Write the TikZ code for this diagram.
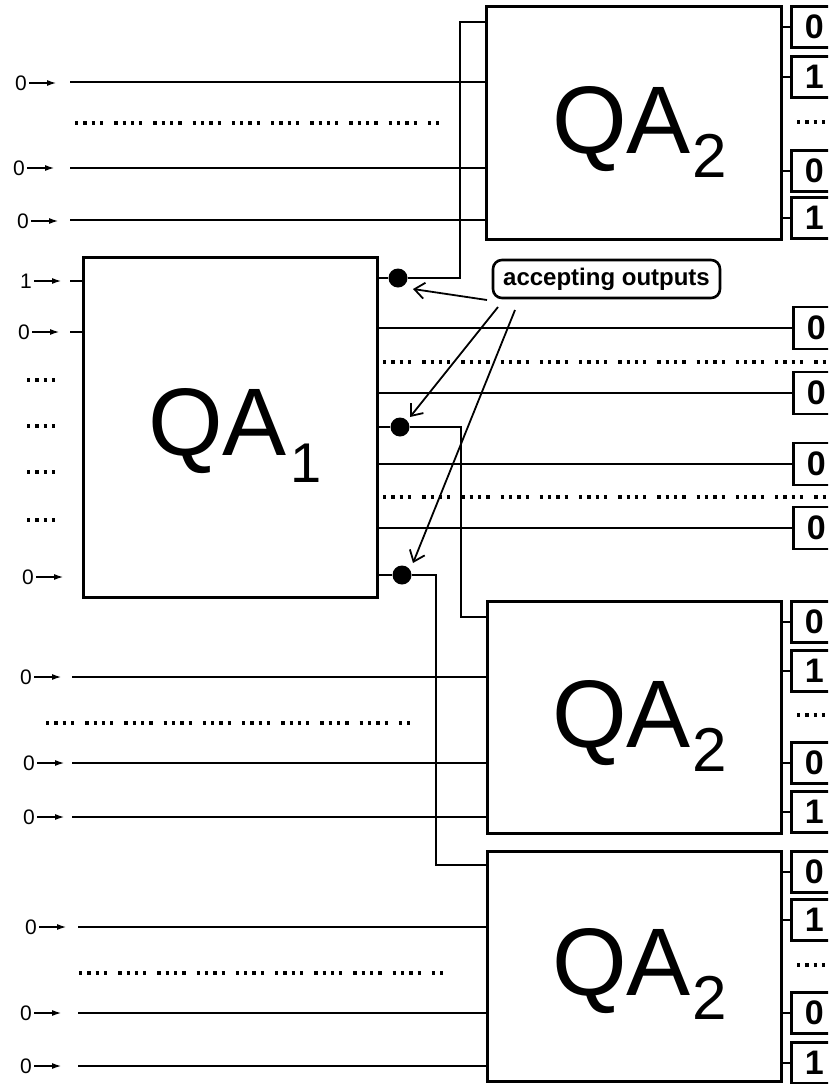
\documentclass[tikz,border=0pt]{standalone}
\usepackage{fontspec}
\setmainfont{Liberation Sans}
\usetikzlibrary{arrows.meta}
\newcommand\InLab[4]{\node[inlab] (#1) at (#3,#4) {#2}; \draw[inarr] (#1.east) -- ++(27,0);}
\begin{document}
\begin{tikzpicture}[x=1pt,y=-1pt,
  wire/.style={line width=2.5pt},
  qabox/.style={draw,line width=2.6pt,rectangle,anchor=north west,inner sep=0pt},
  outbox/.style={draw,line width=2.5pt,rectangle,anchor=west,minimum width=46pt,minimum height=41pt,inner sep=0pt,font=\fontsize{34}{34}\selectfont\bfseries},
  inlab/.style={anchor=west,inner xsep=2pt,inner ysep=0pt,font=\fontsize{21}{21}\selectfont},
  inarr/.style={line width=1.2pt,-{Latex[length=9pt,width=6pt]}},
  dotrow/.style={line width=3.3pt,dash pattern=on 3.3pt off 5pt on 3.3pt off 5pt on 3.3pt off 5pt on 3.3pt off 11pt},
  dot/.style={circle,fill,inner sep=0pt,minimum size=19pt},
  acc/.style={draw,line width=2.6pt,rounded corners=9pt,minimum width=227pt,minimum height=38pt,inner sep=0pt,font=\fontsize{24}{24}\selectfont\bfseries},
  accarr/.style={line width=1.8pt,-{Straight Barb[length=10pt,width=16pt]}},
  qalab/.style={anchor=base west,inner sep=0pt,font=\fontsize{96}{96}\selectfont}
]
\useasboundingbox (0,0) rectangle (828,1084);
\fill[white] (0,0) rectangle (828,1084);
\clip (0,0) rectangle (828,1084);

% ---------- boxes ----------
\node[qabox,minimum width=295pt,minimum height=233pt] (qa2a) at (485,5) {};
\node[qabox,minimum width=294pt,minimum height=340pt] (qa1) at (82,256) {};
\node[qabox,minimum width=294pt,minimum height=232pt] (qa2b) at (486,600) {};
\node[qabox,minimum width=294pt,minimum height=230pt] (qa2c) at (486,850) {};

\node[qalab] (la) at (552,153) {QA\kern2pt\raisebox{-24pt}{\fontsize{62}{62}\selectfont 2}};
\node[qalab] (l1) at (148,455) {QA\kern4pt\raisebox{-27pt}{\fontsize{56}{56}\selectfont 1}};
\node[qalab] (lb) at (552,747) {QA\kern2pt\raisebox{-24pt}{\fontsize{62}{62}\selectfont 2}};
\node[qalab] (lc) at (552,995) {QA\kern2pt\raisebox{-24pt}{\fontsize{62}{62}\selectfont 2}};

% ---------- output boxes of QA2 blocks ----------
\foreach \n/\y/\t in {a1/27/0,a2/77/1,a3/171/0,a4/218/1}
  {\node[outbox] (o\n) at (790,\y) {\t}; \draw[wire] (qa2a.east|-o\n) -- (o\n.west);}
\foreach \n/\y/\t in {b1/622/0,b2/671/1,b3/763/0,b4/812/1}
  {\node[outbox] (o\n) at (790,\y) {\t}; \draw[wire] (qa2b.east|-o\n) -- (o\n.west);}
\foreach \n/\y/\t in {c1/872/0,c2/920/1,c3/1013/0,c4/1063/1}
  {\node[outbox] (o\n) at (790,\y) {\t}; \draw[wire] (qa2c.east|-o\n) -- (o\n.west);}
\draw[dotrow] (797,122) -- (830,122);
\draw[dotrow] (797,715) -- (830,715);
\draw[dotrow] (797,965) -- (830,965);

% ---------- outputs of QA1 ----------
\foreach \n/\y in {q1/328,q2/393,q3/464,q4/528}
  {\node[outbox,minimum height=42pt] (o\n) at (792,\y) {0}; \draw[wire] (qa1.east|-o\n) -- (o\n.west);}
\draw[dotrow] (383,362) -- (830,362);
\draw[dotrow] (383,497) -- (830,497);

% ---------- accepting outputs ----------
\node[dot] (d1) at (398,278) {};
\node[dot] (d2) at (400,427) {};
\node[dot] (d3) at (402,575) {};
\coordinate (t1) at (460,22);
\coordinate (t2) at (461,617);
\coordinate (t3) at (436,865);
\draw[wire] (qa1.east|-d1) -- (d1) -| (t1) -- (t1-|qa2a.west);
\draw[wire] (qa1.east|-d2) -- (d2) -| (t2) -- (t2-|qa2b.west);
\draw[wire] (qa1.east|-d3) -- (d3) -| (t3) -- (t3-|qa2c.west);

\node[acc] (acc) at (606.5,279) {accepting outputs};
\coordinate (s1) at (487,300);
\coordinate (s2) at (498,307);
\coordinate (s3) at (515,310);
\coordinate (e1) at (413,289);
\coordinate (e2) at (410,417);
\coordinate (e3) at (413,563);
\draw[accarr] (s1) -- (e1);
\draw[accarr] (s2) -- (e2);
\draw[accarr] (s3) -- (e3);

% ---------- inputs of top QA2 ----------
\foreach \n/\y in {ta/82,tb/168,tc/220}
  {\coordinate (\n) at (70,\y); \draw[wire] (\n) -- (\n-|qa2a.west);}
\draw[dotrow] (75,123) -- (443,123);
\InLab{la1}{0}{13}{83}
\InLab{la2}{0}{11}{168}
\InLab{la3}{0}{15}{221}

% ---------- inputs of QA1 ----------
\coordinate (qa) at (70,281);
\coordinate (qb) at (70,332);
\draw[wire] (qa) -- (qa-|qa1.west);
\draw[wire] (qb) -- (qb-|qa1.west);
\InLab{l11}{1}{18}{281}
\InLab{l12}{0}{16}{332}
\InLab{l13}{0}{20}{577}
\draw[dotrow] (27,380) -- (56,380);
\draw[dotrow] (27,426) -- (56,426);
\draw[dotrow] (27,472) -- (56,472);
\draw[dotrow] (27,520) -- (56,520);

% ---------- inputs of middle QA2 ----------
\foreach \n/\y in {ma/677,mb/763,mc/817}
  {\coordinate (\n) at (72,\y); \draw[wire] (\n) -- (\n-|qa2b.west);}
\draw[dotrow] (46,723) -- (413,723);
\InLab{lb1}{0}{18}{677}
\InLab{lb2}{0}{21}{763}
\InLab{lb3}{0}{21}{817}

% ---------- inputs of bottom QA2 ----------
\foreach \n/\y in {ba/927,bb/1013,bc/1066}
  {\coordinate (\n) at (78,\y); \draw[wire] (\n) -- (\n-|qa2c.west);}
\draw[dotrow] (79,973) -- (447,973);
\InLab{lc1}{0}{23}{927}
\InLab{lc2}{0}{18}{1013}
\InLab{lc3}{0}{18}{1066}
\end{tikzpicture}
\end{document}
